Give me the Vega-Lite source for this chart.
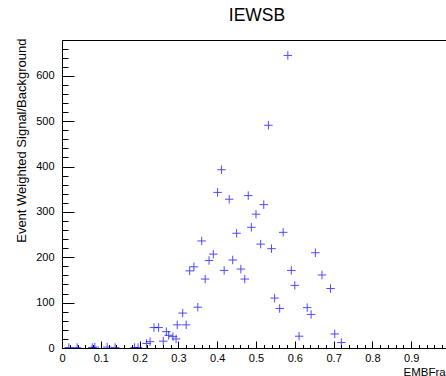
{
  "$schema": "https://vega.github.io/schema/vega-lite/v6.json",
  "width": 384,
  "height": 308,
  "autosize": {"type": "none"},
  "padding": {"left": 62, "top": 40, "right": 0, "bottom": 28},
  "background": "white",
  "config": {
    "font": "Liberation Sans",
    "view": {"stroke": "black", "strokeWidth": 1}
  },
  "title": {
    "text": "IEWSB",
    "font": "Liberation Sans",
    "fontSize": 17.5,
    "fontWeight": "normal",
    "color": "black",
    "anchor": "middle",
    "dx": 3,
    "baseline": "alphabetic",
    "offset": 0
  },
  "data": {
    "values": [
      {"frac": 0.0175, "sb": 1}, {"frac": 0.039, "sb": 1}, {"frac": 0.078, "sb": 1}, {"frac": 0.0845, "sb": 2},
      {"frac": 0.1165, "sb": 2}, {"frac": 0.137, "sb": 1}, {"frac": 0.187, "sb": 1}, {"frac": 0.196, "sb": 1},
      {"frac": 0.218, "sb": 10}, {"frac": 0.227, "sb": 14}, {"frac": 0.237, "sb": 45}, {"frac": 0.249, "sb": 45},
      {"frac": 0.261, "sb": 15}, {"frac": 0.269, "sb": 36}, {"frac": 0.275, "sb": 28}, {"frac": 0.286, "sb": 25},
      {"frac": 0.294, "sb": 20}, {"frac": 0.297, "sb": 51}, {"frac": 0.320, "sb": 51}, {"frac": 0.311, "sb": 77},
      {"frac": 0.350, "sb": 90}, {"frac": 0.329, "sb": 170}, {"frac": 0.340, "sb": 179}, {"frac": 0.369, "sb": 152},
      {"frac": 0.360, "sb": 236}, {"frac": 0.379, "sb": 193}, {"frac": 0.390, "sb": 207}, {"frac": 0.401, "sb": 343},
      {"frac": 0.411, "sb": 393}, {"frac": 0.418, "sb": 171}, {"frac": 0.431, "sb": 328}, {"frac": 0.440, "sb": 194},
      {"frac": 0.450, "sb": 253}, {"frac": 0.461, "sb": 174}, {"frac": 0.471, "sb": 152}, {"frac": 0.480, "sb": 336},
      {"frac": 0.488, "sb": 266}, {"frac": 0.500, "sb": 295}, {"frac": 0.512, "sb": 229}, {"frac": 0.520, "sb": 316},
      {"frac": 0.532, "sb": 491}, {"frac": 0.540, "sb": 219}, {"frac": 0.548, "sb": 110}, {"frac": 0.561, "sb": 87},
      {"frac": 0.570, "sb": 255}, {"frac": 0.582, "sb": 645}, {"frac": 0.591, "sb": 171}, {"frac": 0.600, "sb": 138},
      {"frac": 0.611, "sb": 26}, {"frac": 0.632, "sb": 89}, {"frac": 0.642, "sb": 74}, {"frac": 0.653, "sb": 210},
      {"frac": 0.670, "sb": 161}, {"frac": 0.692, "sb": 131}, {"frac": 0.703, "sb": 31}, {"frac": 0.720, "sb": 12}
    ]
  },
  "mark": {
    "type": "point",
    "shape": "M-1,0L1,0M0,-1L0,1",
    "filled": false,
    "stroke": "#0000ff",
    "strokeWidth": 1,
    "size": 72,
    "clip": true
  },
  "encoding": {
    "x": {
      "field": "frac",
      "type": "quantitative",
      "scale": {"domain": [0, 0.9897], "nice": false, "zero": false},
      "axis": {
        "values": [0,0.02,0.04,0.06,0.08,0.1,0.12,0.14,0.16,0.18,0.2,0.22,0.24,0.26,0.28,0.3,0.32,0.34,0.36,0.38,0.4,0.42,0.44,0.46,0.48,0.5,0.52,0.54,0.56,0.58,0.6,0.62,0.64,0.66,0.68,0.7,0.72,0.74,0.76,0.78,0.8,0.82,0.84,0.86,0.88,0.9,0.92,0.94,0.96,0.98],
        "labelExpr": "abs(datum.value*10 - round(datum.value*10)) < 0.001 ? format(datum.value, '.1~f') : ''",
        "tickSize": {"condition": {"test": "abs(datum.value*10 - round(datum.value*10)) < 0.001", "value": -7}, "value": -3.5},
        "tickColor": "black",
        "domainColor": "black",
        "labelColor": "black",
        "labelFont": "Liberation Sans",
        "labelFontSize": 11,
        "labelPadding": 11,
        "labelFlush": false,
        "labelOverlap": false,
        "grid": false,
        "title": "EMBFrac",
        "titleFont": "Liberation Sans",
        "titleFontSize": 11.5,
        "titleFontWeight": "normal",
        "titleColor": "black",
        "titleX": 389,
        "titleY": 27,
        "titleAlign": "right",
        "titleAnchor": null,
        "titleBaseline": "alphabetic"
      }
    },
    "y": {
      "field": "sb",
      "type": "quantitative",
      "scale": {"domain": [0, 679], "nice": false},
      "axis": {
        "values": [0,20,40,60,80,100,120,140,160,180,200,220,240,260,280,300,320,340,360,380,400,420,440,460,480,500,520,540,560,580,600,620,640,660],
        "labelExpr": "datum.value % 100 == 0 ? format(datum.value, 'd') : ''",
        "tickSize": {"condition": {"test": "datum.value % 100 == 0", "value": -12}, "value": -6},
        "tickColor": "black",
        "domainColor": "black",
        "labelColor": "black",
        "labelFont": "Liberation Sans",
        "labelFontSize": 11,
        "labelPadding": 20,
        "labelFlush": false,
        "labelOverlap": false,
        "grid": false,
        "title": "Event Weighted Signal/Background",
        "titleFont": "Liberation Sans",
        "titleFontSize": 13,
        "titleFontWeight": "normal",
        "titleColor": "black",
        "titleAngle": -90,
        "titleX": -37,
        "titleY": -2,
        "titleAlign": "right",
        "titleAnchor": null,
        "titleBaseline": "alphabetic"
      }
    }
  }
}
